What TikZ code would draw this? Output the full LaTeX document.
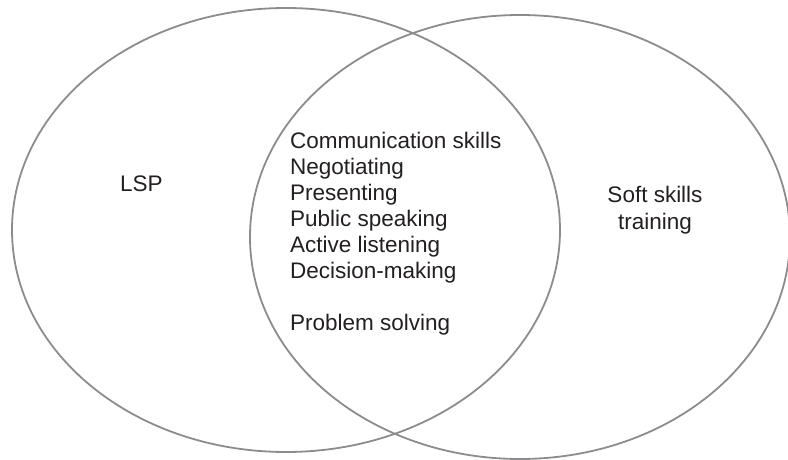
\documentclass[tikz,border=0pt]{standalone}
\usepackage{fontspec}
\setmainfont{Liberation Sans}
\definecolor{ringgray}{HTML}{8C8C8E}
\definecolor{inkblack}{HTML}{231F20}
\begin{document}
\begin{tikzpicture}[x=1pt,y=-1pt,
  ring/.style={draw=ringgray,line width=1.8pt},
  label/.style={inner sep=0pt,text=inkblack,font=\fontsize{22.5pt}{26pt}\selectfont},
  item/.style={label,anchor=base west}]
  \useasboundingbox (0,0) rectangle (788,460);
  \clip (0,0) rectangle (788,460);
  % the two overlapping sets
  \draw[ring] (286,230) ellipse [x radius=274pt,y radius=222pt];
  \draw[ring] (520,237) ellipse [x radius=270pt,y radius=222pt];
  % set names
  \node[item] (lsp) at (120,191) {LSP};
  \node[label,anchor=base] (soft1) at (655,202) {Soft skills};
  \node[label,anchor=base] (soft2) at (655,229) {training};
  % shared skills in the overlap
  \node[item] (s1) at (290,148) {Communication skills};
  \node[item] (s2) at (290,174) {Negotiating};
  \node[item] (s3) at (290,200) {Presenting};
  \node[item] (s4) at (290,226) {Public speaking};
  \node[item] (s5) at (290,252) {Active listening};
  \node[item] (s6) at (290,278) {Decision-making};
  \node[item] (s7) at (290,330) {Problem solving};
\end{tikzpicture}
\end{document}
